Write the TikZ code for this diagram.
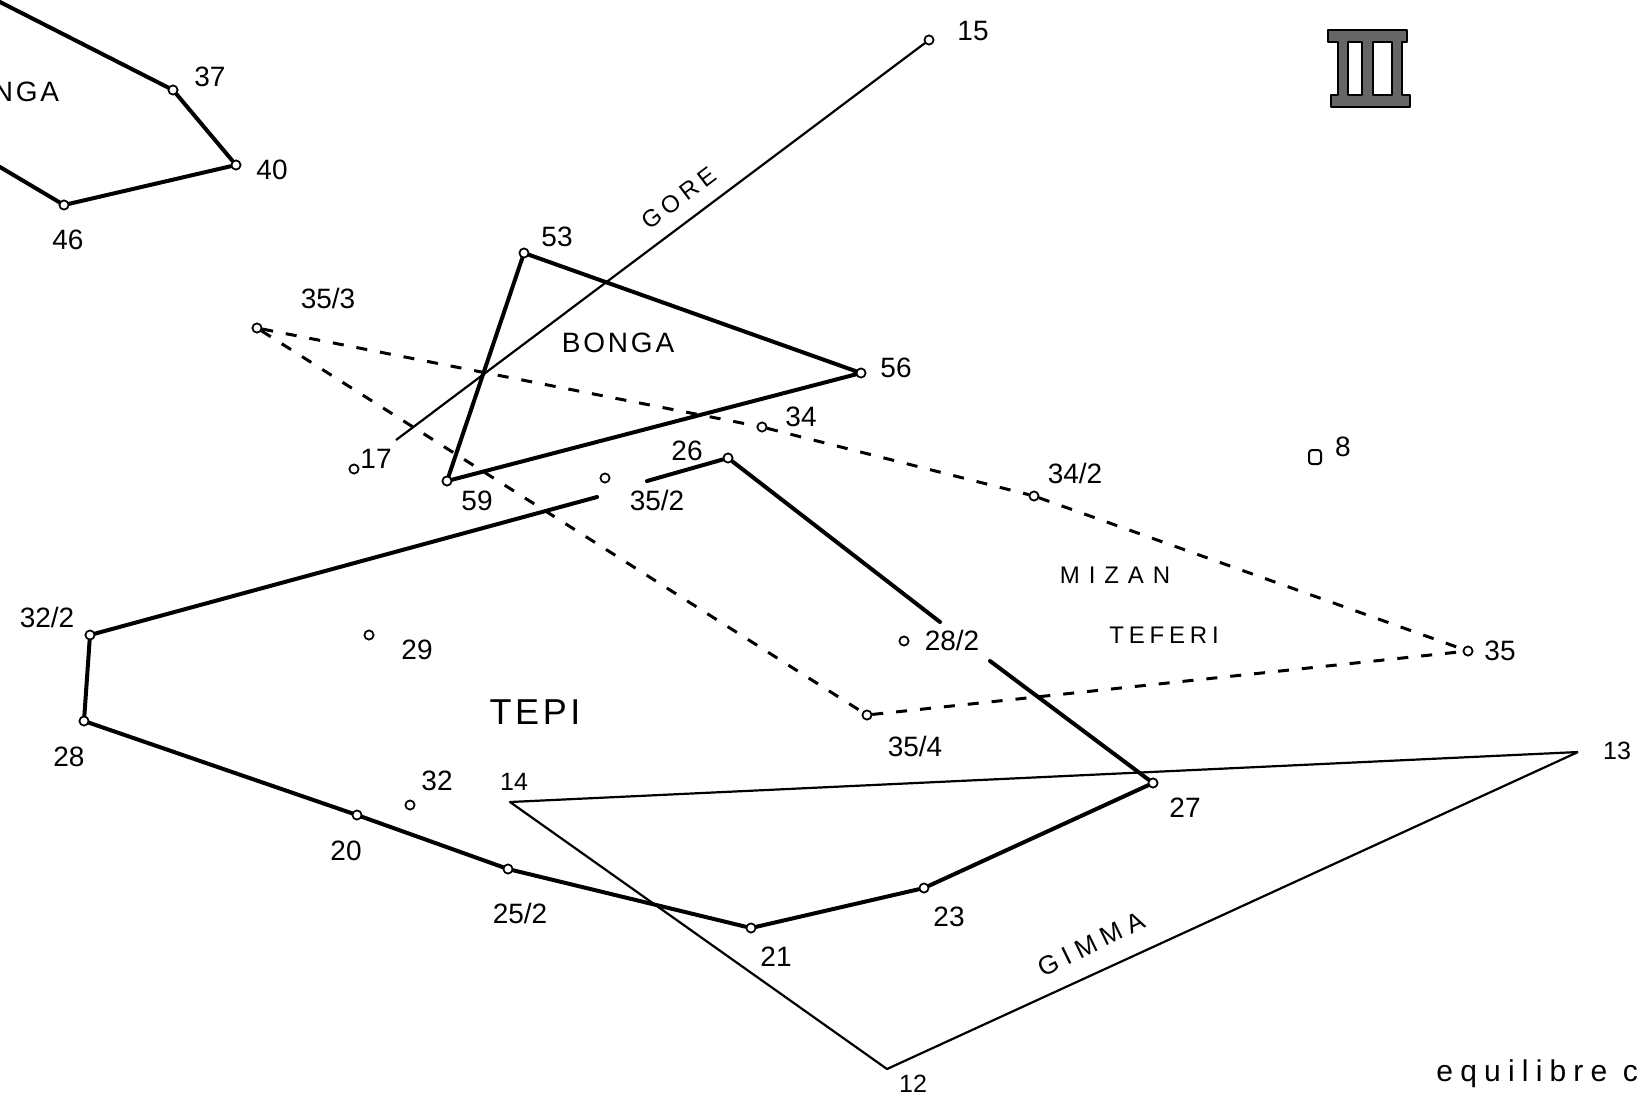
\documentclass[tikz,border=0pt]{standalone}
\usepackage{fontspec}
\setmainfont{Liberation Sans}
\begin{document}
\begin{tikzpicture}[x=0.5pt,y=-0.5pt,
  site/.style={circle,draw,fill=white,inner sep=0pt,minimum size=4.5pt,line width=0.8pt},
  num/.style={font=\fontsize{14}{16}\selectfont,inner sep=1pt},
  smallnum/.style={font=\fontsize{12.5}{14}\selectfont,inner sep=1pt},
  boundary/.style={line width=2pt,line join=round,line cap=round},
  route/.style={line width=1.1pt,line join=round},
  link/.style={line width=1.5pt,dash pattern=on 5.5pt off 6.5pt,line join=round},
  region/.style={inner sep=0pt}
]
\useasboundingbox (0,0) rectangle (1641,1104);
\fill[white] (0,0) rectangle (1641,1104);
\clip (0,0) rectangle (1641,1104);

% ---- stations ----
\node[site] (s15) at (929,40) {};
\node[site] (s37) at (173,90) {};
\node[site] (s40) at (236,165) {};
\node[site] (s46) at (64,205) {};
\node[site] (s53) at (524,253) {};
\node[site] (s353) at (257,328) {};
\node[site] (s56) at (861,373) {};
\node[site] (s34) at (762,427) {};
\node[site] (s17) at (354,469) {};
\node[site] (s59) at (447,481) {};
\node[site] (s26) at (728,458) {};
\node[site] (s352) at (605,478) {};
\node[site] (s342) at (1034,496) {};
\node[draw,line width=1pt,rounded corners=1.5pt,minimum width=6pt,minimum height=7pt,inner sep=0pt] (s8) at (1315,457) {};
\node[site] (s322) at (90,635) {};
\node[site] (s29) at (369,635) {};
\node[site] (s282) at (904,641) {};
\node[site] (s35) at (1468,651) {};
\node[site] (s28) at (84,721) {};
\node[site] (s354) at (867,715) {};
\node[site] (s32) at (410,805) {};
\node[site] (s27) at (1153,783) {};
\node[site] (s20) at (357,815) {};
\node[site] (s252) at (508,869) {};
\node[site] (s23) at (924,888) {};
\node[site] (s21) at (751,928) {};
\coordinate (s13) at (1578,752);
\coordinate (s14) at (510,802);
\coordinate (s12) at (887,1069);

% free ends and breaks in the lines
\coordinate (nwA) at (0,2);
\coordinate (nwB) at (0,167);
\coordinate (goreEnd) at (396,440);
\coordinate (brA) at (647,481);
\coordinate (brB) at (597,497);
\coordinate (brC) at (940,622);
\coordinate (brD) at (990,661);

% ---- thin routes ----
\draw[route] (s15) -- (goreEnd);
\draw[route] (s13) -- (s14) -- (s12) -- (s13);

% ---- dashed links ----
\draw[link] (s353) -- (s34) -- (s342) -- (s35);
\draw[link] (s353) -- (s354) -- (s35);

% ---- heavy boundaries ----
\draw[boundary] (nwA) -- (s37) -- (s40) -- (s46) -- (nwB);
\draw[boundary] (s53) -- (s56) -- (s59) -- (s53);
\draw[boundary] (s26) -- (brA);
\draw[boundary] (brB) -- (s322) -- (s28) -- (s20) -- (s252) -- (s21) -- (s23) -- (s27) -- (brD);
\draw[boundary] (brC) -- (s26);

% redraw stations over the lines
\foreach \s in {s15,s37,s40,s46,s53,s353,s56,s34,s17,s59,s26,s352,s342,s322,s29,s282,s35,s28,s354,s32,s27,s20,s252,s23,s21}
  \node[site] at (\s) {};

% ---- numbers ----
\node[num] (l15) at (973,31) {15};
\node[num] (l37) at (210,77) {37};
\node[num] (l40) at (272,170) {40};
\node[num] (l46) at (68,240) {46};
\node[num] (l53) at (557,237) {53};
\node[num] (l353) at (328,298) {35/3};
\node[num] (l56) at (896,368) {56};
\node[num] (l34) at (801,417) {34};
\node[num] (l17) at (376,459) {17};
\node[num] (l59) at (477,501) {59};
\node[num] (l26) at (687,451) {26};
\node[num] (l352) at (657,500) {35/2};
\node[num] (l342) at (1075,473) {34/2};
\node[num] (l8) at (1343,447) {8};
\node[num] (l322) at (47,617) {32/2};
\node[num] (l29) at (417,650) {29};
\node[num] (l282) at (952,640) {28/2};
\node[num] (l35) at (1500,651) {35};
\node[num] (l28) at (69,757) {28};
\node[num] (l354) at (915,746) {35/4};
\node[smallnum] (l13) at (1617,751) {13};
\node[num] (l32) at (437,781) {32};
\node[smallnum] (l14) at (514,782) {14};
\node[num] (l27) at (1185,808) {27};
\node[num] (l20) at (346,851) {20};
\node[num] (l252) at (520,913) {25/2};
\node[num] (l23) at (949,917) {23};
\node[num] (l21) at (776,957) {21};
\node[smallnum] (l12) at (913,1084) {12};

% ---- region names ----
\node[region,font={\fontsize{14}{16}\selectfont\addfontfeature{LetterSpace=10}}] (rBongaW) at (3,92) {BONGA};
\node[region,font={\fontsize{14}{16}\selectfont\addfontfeature{LetterSpace=10}}] (rBonga) at (618,343) {BONGA};
\node[region,font={\fontsize{12}{14}\selectfont\addfontfeature{LetterSpace=22}},rotate=37] (rGore) at (679,198) {GORE};
\node[region,font={\fontsize{12}{14}\selectfont\addfontfeature{LetterSpace=37}}] (rMizan) at (1115,575) {MIZAN};
\node[region,font={\fontsize{12}{14}\selectfont\addfontfeature{LetterSpace=20}}] (rTeferi) at (1164,635) {TEFERI};
\node[region,font={\fontsize{18}{20}\selectfont\addfontfeature{LetterSpace=10}}] (rTepi) at (535,712) {TEPI};
\node[region,font={\fontsize{13}{15}\selectfont\addfontfeature{LetterSpace=26}},rotate=26] (rGimma) at (1091,944) {GIMMA};
\node[region,anchor=west,font={\fontsize{15}{17}\selectfont\addfontfeature{LetterSpace=24}}] (note) at (1436,1074) {equilibre c};

% ---- plate numeral ----
\fill[black!60,draw=black,line width=1.3pt,even odd rule,line join=round]
  (1328,30) -- (1407,30) -- (1407,42) -- (1402,42) -- (1402,95) -- (1410,95)
  -- (1410,107) -- (1331,107) -- (1331,95) -- (1338,95) -- (1338,42) -- (1328,42) -- cycle
  (1348,42) rectangle (1362,95)
  (1373,42) rectangle (1392,95);
\end{tikzpicture}
\end{document}
